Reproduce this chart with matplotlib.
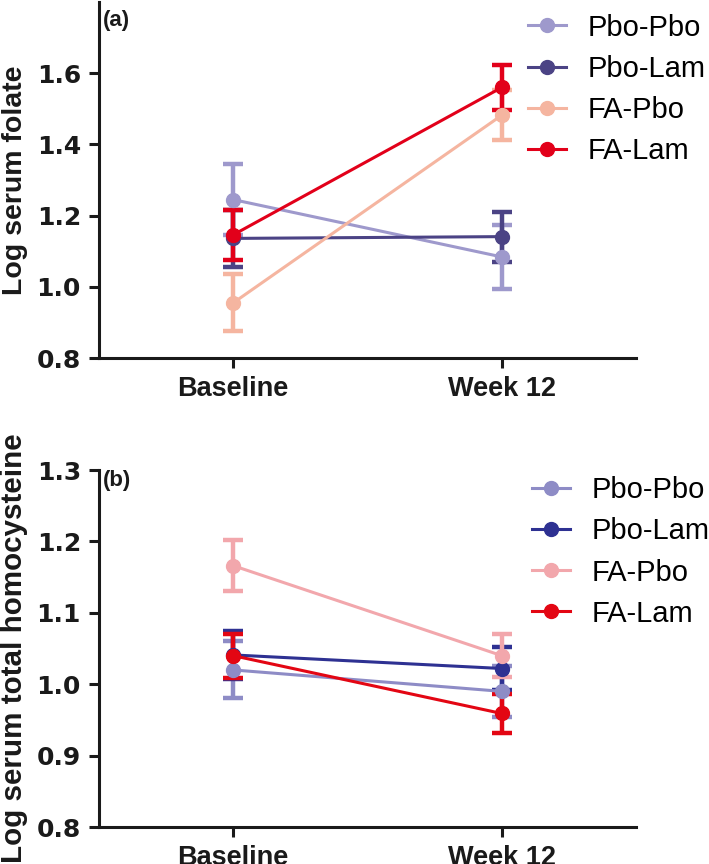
import numpy as np
import matplotlib
matplotlib.use('Agg')
import matplotlib.pyplot as plt

plt.rcParams['font.family'] = ['Liberation Sans', 'DejaVu Sans']

timepoints = ['Baseline', 'Week 12']
groups = ['Pbo-Pbo', 'Pbo-Lam', 'FA-Pbo', 'FA-Lam']

# (a) log serum folate: means and error (half-width)
folate_mean = {
    'Pbo-Pbo': [1.245, 1.084],
    'Pbo-Lam': [1.136, 1.141],
    'FA-Pbo': [0.955, 1.482],
    'FA-Lam': [1.146, 1.560],
}
folate_err = {
    'Pbo-Pbo': [0.100, 0.090],
    'Pbo-Lam': [0.080, 0.070],
    'FA-Pbo': [0.080, 0.070],
    'FA-Lam': [0.070, 0.063],
}

# (b) log serum total homocysteine
hcy_mean = {
    'Pbo-Pbo': [1.020, 0.990],
    'Pbo-Lam': [1.041, 1.022],
    'FA-Pbo': [1.166, 1.040],
    'FA-Lam': [1.040, 0.959],
}
hcy_err = {
    'Pbo-Pbo': [0.040, 0.036],
    'Pbo-Lam': [0.033, 0.030],
    'FA-Pbo': [0.036, 0.030],
    'FA-Lam': [0.031, 0.027],
}

colors_a = ['#9e99cc', '#4b4385', '#f5b5a0', '#e2001a']
colors_b = ['#8e8cc6', '#2e3192', '#f2a7ac', '#e30613']

fig = plt.figure(figsize=(7.09, 8.64), dpi=100)
ax1 = fig.add_axes([0.1396, 0.5856, 0.7575, 0.4121])
ax2 = fig.add_axes([0.1396, 0.0428, 0.7575, 0.4132])

x = np.arange(len(timepoints))


def draw(ax, means, errs, colors, ylim, yticks, ylabel, ylabel_size, tag, tag_y):
    for g, c in zip(groups, colors):
        ax.errorbar(x, means[g], yerr=errs[g], color=c, marker='o', ms=10,
                    lw=2.2, elinewidth=3.2, capsize=7, capthick=3.2, label=g)
    ax.set_xlim(-0.5, 1.5)
    ax.set_ylim(*ylim)
    ax.set_yticks(yticks)
    ax.set_yticklabels(['%.1f' % v for v in yticks])
    ax.set_xticks(x)
    ax.set_xticklabels(timepoints)
    for s in ['top', 'right']:
        ax.spines[s].set_visible(False)
    for s in ['left', 'bottom']:
        ax.spines[s].set_linewidth(2.2)
        ax.spines[s].set_color('#1a1a1a')
    ax.tick_params(width=2.2, length=7, pad=6, colors='#1a1a1a')
    for lbl in ax.get_xticklabels():
        lbl.set_fontweight('bold')
        lbl.set_fontsize(19.5)
    for lbl in ax.get_yticklabels():
        lbl.set_fontweight('bold')
        lbl.set_fontsize(18)
        lbl.set_family('DejaVu Sans')
    ax.set_ylabel(ylabel, fontsize=ylabel_size, fontweight='bold', color='#1a1a1a')
    ax.yaxis.set_label_coords(-0.132, 0.5)
    ax.text(0.008, tag_y, tag, transform=ax.transAxes, fontsize=16,
            fontweight='bold', va='top', ha='left', color='#1a1a1a')


draw(ax1, folate_mean, folate_err, colors_a, (0.8, 1.8),
     [0.8, 1.0, 1.2, 1.4, 1.6], 'Log serum folate', 20.5, '(a)', 0.978)
draw(ax2, hcy_mean, hcy_err, colors_b, (0.8, 1.3),
     [0.8, 0.9, 1.0, 1.1, 1.2, 1.3], 'Log serum total homocysteine', 21.3,
     '(b)', 1.0)

for ax, anchor in [(ax1, (0.777, 1.0)), (ax2, (0.784, 1.015))]:
    h, l = ax.get_legend_handles_labels()
    h = [hh[0] for hh in h]
    ax.legend(h, l, loc='upper left', bbox_to_anchor=anchor, frameon=False,
              fontsize=21, handlelength=1.3, handletextpad=0.76,
              labelspacing=0.45, borderaxespad=0)

fig.savefig('out.png', dpi=100)
